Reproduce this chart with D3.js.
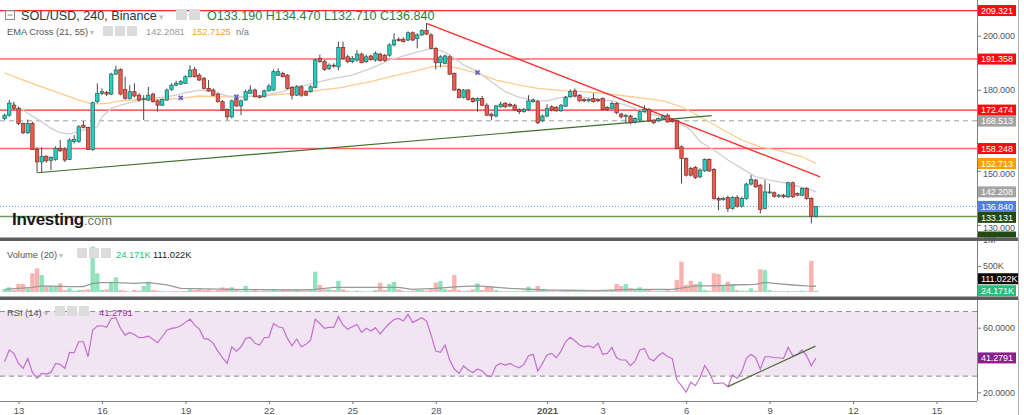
<!DOCTYPE html>
<html>
<head>
<meta charset="utf-8">
<script src="https://cdn.jsdelivr.net/npm/d3@7"></script>
<style>
body { margin: 0; background: #fff; }
svg { display: block; }
text { font-family: "Liberation Sans", Arial, sans-serif; }
</style>
</head>
<body>
<svg id="chart" width="1024" height="415"></svg>
<script>
// ---- data (SOL/USD 4h candles, first bar 12 Dec 2020 12:00 UTC) ----
var opens = [169.4,170.6,174.3,173.1,167.5,164.1,167.5,157.9,153.3,155.4,153.9,154.2,158.3,157.9,154.2,160.8,160.8,166.9,166.1,157.9,
175.6,178.7,179.0,178.4,185.8,187.5,180.1,176.8,179.3,178.0,176.4,176.2,178.4,175.9,174.3,176.2,180.1,181.7,182.1,182.4,
184.8,187.5,185.4,184.2,180.5,179.9,178.4,175.6,172.7,170.0,176.4,174.0,176.2,178.7,179.9,177.7,177.4,179.6,179.9,185.4,
186.1,185.4,180.9,178.0,181.1,179.3,179.3,180.9,191.6,190.4,187.9,189.1,188.5,195.7,192.2,190.4,191.0,193.2,190.4,192.5,
191.0,193.2,192.8,192.8,196.6,198.7,198.7,198.4,201.1,199.0,200.3,201.9,200.3,195.3,190.0,189.8,192.2,186.1,180.1,177.2,
179.9,176.8,175.9,176.8,174.3,171.0,170.3,173.7,175.0,174.6,174.3,172.7,171.9,172.7,175.6,175.6,168.5,170.3,173.7,173.5,
172.2,173.9,177.4,179.6,178.0,176.4,175.9,176.8,176.4,176.8,173.5,173.1,174.9,171.0,170.3,170.3,168.1,168.8,171.9,172.7,
168.8,168.5,169.4,170.6,168.8,168.5,158.9,154.6,150.9,151.2,147.8,150.0,154.2,150.5,139.8,139.4,140.1,136.1,140.1,136.9,
139.8,145.1,146.6,144.7,136.1,141.9,141.9,140.6,141.0,140.4,145.6,141.6,141.0,143.5,139.8,133.19];
var highs = [171.2,176.2,175.6,173.7,167.8,169.0,168.2,158.7,158.7,155.8,155.4,159.1,161.4,158.7,162.0,163.2,166.9,168.4,166.3,175.6,
182.4,180.5,179.6,186.3,188.9,187.9,184.8,181.7,182.4,178.7,178.0,181.1,178.9,176.4,176.8,180.5,182.4,183.3,183.6,185.4,
189.1,188.5,186.1,184.8,183.6,180.5,178.9,176.2,173.1,176.4,177.2,176.4,180.1,181.7,180.5,178.0,180.1,182.1,187.5,187.9,
186.7,185.8,181.4,181.7,181.7,179.9,181.7,191.6,193.0,191.0,189.8,189.8,197.8,197.8,193.0,192.5,194.7,193.7,193.0,193.0,
194.2,193.7,193.2,197.2,200.9,199.4,199.4,201.6,201.6,200.9,202.4,204.6,200.9,195.8,192.8,193.0,192.8,186.4,180.5,180.3,
180.3,177.2,177.2,177.7,175.0,171.5,174.4,175.6,175.6,175.2,174.8,173.1,173.3,178.0,176.8,176.2,170.8,174.7,174.3,174.0,
174.7,177.7,180.1,180.5,178.4,176.8,176.8,178.7,176.8,177.2,173.9,175.6,175.4,171.5,171.0,170.8,169.8,172.5,174.3,173.3,
169.0,169.8,170.8,171.2,169.4,169.0,159.4,155.0,151.5,151.8,150.9,154.6,154.6,151.0,140.4,140.4,140.8,140.6,141.0,140.4,
145.6,148.4,147.0,145.2,146.6,145.3,142.4,141.5,141.5,146.0,146.0,142.0,143.9,144.0,140.2,137.0];
var lows = [168.8,170.0,172.5,166.9,163.6,163.6,157.7,149.3,149.6,153.0,150.3,153.7,157.0,153.3,154.0,160.1,160.4,165.7,157.7,157.4,
175.0,178.0,177.7,178.0,185.4,178.0,176.4,176.4,177.2,175.6,168.8,175.9,175.2,171.9,174.0,175.9,179.6,181.4,181.7,182.1,
184.6,184.6,183.3,180.1,179.3,177.7,175.2,172.2,168.8,169.4,173.7,170.6,175.9,178.4,177.2,176.8,177.2,179.3,179.6,185.1,
184.6,180.1,176.4,177.7,177.4,177.7,178.9,180.5,190.0,187.0,187.3,188.2,187.3,191.2,189.8,189.8,190.4,189.8,190.0,190.7,
190.4,190.4,190.4,192.2,196.0,197.8,197.5,198.0,198.0,195.3,199.9,200.3,195.0,187.5,188.3,189.4,185.4,179.6,176.8,176.8,
176.0,175.2,171.9,173.9,170.3,168.8,169.8,173.3,173.3,173.6,172.2,171.0,171.5,172.2,175.2,167.3,168.1,169.8,172.0,171.9,
171.9,173.6,177.0,177.2,175.6,175.4,175.4,175.2,175.4,172.2,172.2,172.7,171.0,169.4,167.5,167.3,167.5,168.5,171.5,168.1,
167.3,168.1,169.0,167.8,167.8,157.9,145.3,147.9,147.9,147.0,147.3,149.6,149.6,139.3,135.4,138.9,134.8,135.6,136.4,136.4,
139.3,144.6,143.7,134.2,135.7,141.5,140.1,140.0,139.9,139.9,139.9,140.6,140.6,139.3,130.5,132.71];
var closes = [170.6,175.0,173.1,167.5,164.1,167.5,157.9,153.3,155.4,153.7,154.9,158.3,157.4,154.0,161.4,161.6,166.3,166.1,157.9,175.2,
178.7,179.3,178.4,185.8,187.3,178.4,176.8,179.3,177.7,176.2,176.8,178.0,175.6,174.3,176.4,179.9,181.7,182.4,183.0,184.8,
187.3,184.8,183.6,180.5,179.6,178.0,175.6,172.5,170.0,175.9,174.0,175.9,179.3,179.9,177.4,177.2,179.6,181.4,186.7,186.7,
184.8,180.5,178.0,181.1,178.0,178.0,181.1,191.0,190.4,187.5,189.1,188.8,195.7,191.6,190.4,191.6,193.2,190.0,192.2,191.2,
193.5,190.8,190.8,196.6,198.4,198.2,197.8,201.1,198.4,200.3,201.9,200.6,195.3,190.0,192.2,192.5,185.8,179.9,177.2,179.9,
176.4,175.6,176.8,174.3,170.6,170.3,174.0,174.7,173.7,174.0,172.5,171.9,172.7,175.9,176.2,167.8,170.3,173.1,172.5,172.2,
174.3,177.2,179.3,177.7,175.9,175.9,176.4,175.6,175.9,172.7,172.7,174.9,171.5,170.0,170.5,167.8,169.4,171.9,172.7,168.5,
167.8,169.4,170.3,168.1,168.2,158.3,154.6,148.4,148.4,147.5,150.3,154.2,150.0,139.8,139.2,139.8,136.1,140.1,136.9,139.8,
145.1,146.8,144.1,135.7,142.2,142.2,140.6,141.0,140.4,145.6,140.4,141.0,143.5,139.8,133.2,136.84];
// volume in thousands
var volumes = [52,90,38,154,154,71,359,455,327,103,116,116,167,38,71,25,38,38,52,871,
359,38,52,199,282,38,25,10,38,25,116,199,38,25,15,10,15,18,15,18,
52,38,71,38,52,25,38,90,71,90,38,25,116,25,38,18,25,25,52,25,
38,38,25,52,25,25,38,391,135,52,52,38,215,52,25,15,25,15,10,15,
38,180,38,154,193,52,25,15,25,38,38,25,52,180,212,52,38,327,38,18,
25,52,167,38,103,116,38,18,15,15,18,15,25,103,25,116,52,25,15,10,
15,25,25,38,25,38,25,38,25,25,25,38,154,116,154,71,38,90,52,38,
25,25,25,38,20,231,583,135,215,154,199,38,25,359,346,135,199,154,38,25,
25,71,25,439,423,38,15,15,15,18,15,15,25,15,599,24.171];
// volume MA(20) read at selected bars
var volMaBars = [0,3,6,8,14,17,19,21,24,28,31,35,38,49,64,67,71,78,85,88,93,98,102,109,117,128,135,142,144,147,149,153,157,162,164,166,170,173,175];
var volMaVals = [52,71,90,116,103,103,167,180,180,167,180,135,71,52,38,52,90,90,90,52,71,103,116,71,38,25,52,52,52,90,116,116,135,148,186,167,135,116,111.022];
var rsiValues = [38.9,46.2,44.1,37.9,34.8,41.0,32.3,28.6,31.7,31.3,32.3,37.9,37.3,34.8,44.7,44.5,51.3,51.3,42.0,58.5,
61.0,61.2,60.2,65.7,66.1,59.6,55.4,57.1,55.8,53.8,54.0,54.8,52.8,50.7,54.4,58.5,59.6,60.0,61.2,63.3,
65.3,61.6,59.1,53.4,52.8,50.3,45.5,41.4,37.9,48.2,45.5,48.2,53.4,54.0,50.3,49.3,53.8,54.0,62.6,60.6,
60.0,53.4,48.8,53.0,48.2,49.7,52.3,65.3,62.6,59.6,60.2,60.2,66.8,61.6,59.1,60.6,62.0,57.1,59.6,57.9,
60.0,56.1,59.6,62.6,65.1,65.7,64.1,68.2,63.3,64.7,66.2,64.1,55.4,45.5,44.7,49.3,40.0,34.4,31.7,36.3,
33.8,32.3,34.4,33.2,30.3,29.7,36.5,37.9,36.9,37.9,36.3,35.2,37.3,42.6,43.5,33.2,37.9,43.1,44.1,41.4,
45.5,51.3,54.0,51.9,49.3,48.2,48.8,47.6,50.3,43.5,44.1,47.8,41.4,40.0,40.0,36.5,39.4,46.2,47.2,41.0,
39.4,42.6,44.5,42.0,41.0,27.6,24.1,20.0,26.2,24.1,29.0,36.5,32.3,25.5,25.5,25.9,23.5,30.7,28.6,32.8,
41.0,43.5,41.4,34.4,42.0,42.0,41.4,41.4,41.0,47.8,42.6,43.5,46.2,42.6,36.5,41.2791];
// EMA lines read at selected bars
var ema21Bars = [1,3,5,8,10,12,14,16,18,20,21,23,25,28,31,34,37,39,42,45,48,51,54,57,60,62,65,68,71,75,79,83,88,92,94,96,99,102,105,108,111,114,117,119,122,125,128,131,134,137,139,142,145,148,150,153,156,159,162,165,168,170,173,175];
var ema21Vals = [175.6,173.7,171.2,168.2,165.7,164.1,163.6,164.5,165.7,166.3,170.0,173.1,174.3,175.6,176.8,177.2,178.0,178.9,179.9,179.3,177.7,177.4,177.7,178.4,179.3,180.9,181.7,183.0,184.2,185.4,187.9,191.0,193.5,195.3,194.5,192.9,189.2,186.7,183.0,179.3,177.2,176.2,175.9,176.8,177.7,177.2,176.4,175.9,174.3,172.5,171.0,170.1,168.2,165.1,160.8,157.7,154.0,150.9,147.8,146.6,145.6,144.7,143.5,142.208];
var ema55Bars = [0,3,8,12,16,19,22,25,29,34,38,42,47,51,55,60,64,68,73,75,79,83,88,92,95,98,102,106,111,115,121,125,129,134,138,142,146,150,155,159,163,168,172,175];
var ema55Vals = [186.3,184.2,181.1,178.7,176.2,174.7,175.0,175.9,176.4,176.4,176.8,177.7,177.4,177.4,177.7,178.4,178.9,179.9,180.9,181.7,183.0,184.8,186.7,188.5,188.8,187.9,186.1,183.6,181.7,180.5,179.6,179.3,178.7,177.7,176.8,175.9,173.7,170.0,165.1,161.4,158.9,157.1,155.2,152.713];
var crossBars = [38, 50, 102];
var crossPrices = [177.0, 177.4, 186.4];
// horizontal levels and right-axis tags
var levelPrices = [209.321, 191.358, 172.474, 168.513, 158.248, 136.840, 133.131];
var levelStyles = ["red", "soft", "red", "dash", "soft", "dot", "green"];
var tagPrices = [209.321, 191.358, 172.474, 168.513, 158.248, 152.713, 142.208, 136.840, 133.131];
var tagColors = ["#ff0a0a", "#ff0a0a", "#ff0a0a", "#a3a3a3", "#ff0a0a", "#ffa000", "#a3a3a3", "#4f7fe0", "#234a12"];
var priceTicks = [130, 140, 150, 160, 170, 180, 190, 200, 210];
var volTicks = [500, 1000];
var volTickLabels = ["500K", "1M"];
var rsiTicks = [20, 40, 60];
var xTickDates = [Date.UTC(2020,11,13), Date.UTC(2020,11,16), Date.UTC(2020,11,19), Date.UTC(2020,11,22), Date.UTC(2020,11,25),
  Date.UTC(2020,11,28), Date.UTC(2021,0,1), Date.UTC(2021,0,3), Date.UTC(2021,0,6), Date.UTC(2021,0,9), Date.UTC(2021,0,12), Date.UTC(2021,0,15)];
var xTickLabels = ["13", "16", "19", "22", "25", "28", "2021", "3", "6", "9", "12", "15"];
// drawn trend lines: [bar index, value]
var greenTrend = [[7, 149.3], [152.5, 170.4]];
var redTrend = [[91, 204.6], [175.9, 147.8]];
var rsiTrend = [[156, 23.5], [174.9, 48.6]];

var barStart = Date.UTC(2020, 11, 12, 12);
var barMs = 4 * 3600 * 1000;
function barDate(i) { return new Date(barStart + i * barMs); }

var plotRight = 977;
var svg = d3.select("#chart");

var x = d3.scaleUtc()
  .domain([new Date(Date.UTC(2020,11,13)), new Date(Date.UTC(2021,0,15))])
  .range([18.5, 936.5]);
var yPrice = d3.scaleLinear().domain([125.07, 213.22]).range([238.2, 0]);
var yVol = d3.scaleLinear().domain([0, 1000]).range([292, 240]);
var yRsi = d3.scaleLinear().domain([20, 60]).range([392.3, 327.7]);

var defs = svg.append("defs");
function clip(id, y0, y1) {
  defs.append("clipPath").attr("id", id).append("rect")
    .attr("x", 0).attr("y", y0).attr("width", plotRight).attr("height", y1 - y0);
}
clip("cMain", 0, 238);
clip("cVol", 241, 297);
clip("cRsi", 300, 401);

// ---------------- main pane ----------------
var main = svg.append("g").attr("clip-path", "url(#cMain)");

levelPrices.forEach(function(p, k) {
  var st = levelStyles[k];
  var ln = main.append("line")
    .attr("x1", 0).attr("x2", plotRight)
    .attr("y1", yPrice(p)).attr("y2", yPrice(p));
  if (st == "red") ln.attr("stroke", "#ff2a2a").attr("stroke-width", 1.3);
  if (st == "soft") ln.attr("stroke", "#ff6a6a").attr("stroke-width", 1.5);
  if (st == "dash") ln.attr("stroke", "#a0a0a0").attr("stroke-width", 1).attr("stroke-dasharray", "5,4");
  if (st == "dot") ln.attr("stroke", "#6f95e8").attr("stroke-width", 1).attr("stroke-dasharray", "1,2");
  if (st == "green") ln.attr("stroke", "#6d9a5c").attr("stroke-width", 1.5);
});

var emaLine = d3.line()
  .x(function(d) { return x(barDate(d[0])); })
  .y(function(d) { return yPrice(d[1]); });

main.append("path")
  .datum(ema55Bars.map(function(b, k) { return [b, ema55Vals[k]]; }))
  .attr("fill", "none").attr("stroke", "#ffcb8a").attr("stroke-width", 1.3)
  .attr("d", emaLine);
main.append("path")
  .datum(ema21Bars.map(function(b, k) { return [b, ema21Vals[k]]; }))
  .attr("fill", "none").attr("stroke", "#cfcfcf").attr("stroke-width", 1.3)
  .attr("d", emaLine);

// trend lines
[greenTrend, redTrend].forEach(function(t, k) {
  main.append("line")
    .attr("x1", x(barDate(t[0][0]))).attr("y1", yPrice(t[0][1]))
    .attr("x2", x(barDate(t[1][0]))).attr("y2", yPrice(t[1][1]))
    .attr("stroke", k == 0 ? "#3f6e2c" : "#ff3030")
    .attr("stroke-width", k == 0 ? 1.2 : 1.4);
});

// candles
var candles = d3.range(opens.length).map(function(i) {
  return {i: i, o: opens[i], h: highs[i], l: lows[i], c: closes[i]};
});
var cg = main.append("g");
cg.selectAll(".wick")
  .data(candles)
  .join("line")
  .attr("class", "wick")
  .attr("x1", function(d) { return x(barDate(d.i)); })
  .attr("x2", function(d) { return x(barDate(d.i)); })
  .attr("y1", function(d) { return yPrice(d.h); })
  .attr("y2", function(d) { return yPrice(d.l); })
  .attr("stroke", "#4a4a4a").attr("stroke-width", 1);
cg.selectAll(".body")
  .data(candles)
  .join("rect")
  .attr("class", "body")
  .attr("x", function(d) { return x(barDate(d.i)) - 1.7; })
  .attr("width", 3.4)
  .attr("y", function(d) { return yPrice(Math.max(d.o, d.c)); })
  .attr("height", function(d) { return Math.max(1, Math.abs(yPrice(d.o) - yPrice(d.c))); })
  .attr("fill", function(d) { return d.c >= d.o ? "#1fd3c3" : "#ee5a4f"; })
  .attr("stroke", function(d) { return d.c >= d.o ? "#2b5e5a" : "#7a2e28"; })
  .attr("stroke-width", 0.7);

// ema cross markers
crossBars.forEach(function(b, k) {
  main.append("path")
    .attr("d", d3.symbol().type(d3.symbolCross).size(18))
    .attr("transform", "translate(" + x(barDate(b)) + "," + yPrice(crossPrices[k]) + ") rotate(45)")
    .attr("fill", "#6a63c4");
});

// Investing.com logo
var logo = svg.append("text").attr("x", 12).attr("y", 225);
logo.append("tspan").text("Investing").attr("font-size", 17).attr("font-weight", "bold").attr("fill", "#1a1a1a").attr("letter-spacing", -0.3);
logo.append("tspan").text(".com").attr("font-size", 13).attr("fill", "#777");

// ---------------- volume pane ----------------
var vol = svg.append("g").attr("clip-path", "url(#cVol)");
vol.selectAll(".vbar")
  .data(candles)
  .join("rect")
  .attr("class", "vbar")
  .attr("x", function(d) { return x(barDate(d.i)) - 2.2; })
  .attr("width", 4.4)
  .attr("y", function(d) { return yVol(volumes[d.i]); })
  .attr("height", function(d) { return yVol(0) - yVol(volumes[d.i]); })
  .attr("fill", function(d) { return d.c >= d.o ? "#8fe3bd" : "#f9b3b0"; });
vol.append("path")
  .datum(volMaBars.map(function(b, k) { return [b, volMaVals[k]]; }))
  .attr("fill", "none").attr("stroke", "#9a9a9a").attr("stroke-width", 1.3)
  .attr("d", d3.line().x(function(d) { return x(barDate(d[0])); }).y(function(d) { return yVol(d[1]); }));

// ---------------- RSI pane ----------------
var rsi = svg.append("g").attr("clip-path", "url(#cRsi)");
rsi.append("rect")
  .attr("x", 0).attr("width", plotRight)
  .attr("y", yRsi(70)).attr("height", yRsi(30) - yRsi(70))
  .attr("fill", "#f1e4f3");
[70, 30].forEach(function(v) {
  rsi.append("line")
    .attr("x1", 0).attr("x2", plotRight).attr("y1", yRsi(v)).attr("y2", yRsi(v))
    .attr("stroke", "#8a8a8a").attr("stroke-dasharray", "5,4");
});
rsi.append("path")
  .datum(rsiValues)
  .attr("fill", "none").attr("stroke", "#c46fce").attr("stroke-width", 1.2)
  .attr("d", d3.line().x(function(d, i) { return x(barDate(i)); }).y(function(d) { return yRsi(d); }));
rsi.append("line")
  .attr("x1", x(barDate(rsiTrend[0][0]))).attr("y1", yRsi(rsiTrend[0][1]))
  .attr("x2", x(barDate(rsiTrend[1][0]))).attr("y2", yRsi(rsiTrend[1][1]))
  .attr("stroke", "#4d6d38").attr("stroke-width", 1.2);

// ---------------- value tags (placed first so axis labels can avoid them) ----------------
var tagH = 11, tagGap = 11;
var priceTagPos = [];
tagPrices.forEach(function(p, k) {
  var yv = yPrice(p);
  if (k > 0 && yv - priceTagPos[k - 1] < tagGap) yv = priceTagPos[k - 1] + tagGap;
  priceTagPos.push(yv);
});
var volTagPos = [yVol(24.171)];
volTagPos.push(Math.min(yVol(111.022), volTagPos[0] - 12));
var rsiTagPos = yRsi(rsiValues[rsiValues.length - 1]);
var allTagPos = priceTagPos.concat(volTagPos, [rsiTagPos]);

// ---------------- axes ----------------
function hidden(v, scale) {
  var yv = scale(v);
  return allTagPos.some(function(t) { return Math.abs(t - yv) < 6; });
}
var pAxis = svg.append("g").attr("transform", "translate(" + plotRight + ",0)")
  .call(d3.axisRight(yPrice).tickValues(priceTicks.filter(function(v) { return !hidden(v, yPrice); }))
    .tickSize(4).tickPadding(2).tickFormat(d3.format(".3f")));
var vAxis = svg.append("g").attr("transform", "translate(" + plotRight + ",0)")
  .call(d3.axisRight(yVol).tickValues(volTicks).tickSize(4).tickPadding(2)
    .tickFormat(function(d, k) { return volTickLabels[k]; }));
var rAxis = svg.append("g").attr("transform", "translate(" + plotRight + ",0)")
  .call(d3.axisRight(yRsi).tickValues(rsiTicks.filter(function(v) { return !hidden(v, yRsi); }))
    .tickSize(4).tickPadding(2).tickFormat(d3.format(".4f")));
var xAxis = svg.append("g").attr("transform", "translate(0,401)")
  .call(d3.axisBottom(x).tickValues(xTickDates.map(function(t) { return new Date(t); })).tickSize(3).tickPadding(3)
    .tickFormat(function(d, k) { return xTickLabels[k]; }));
[pAxis, vAxis, rAxis, xAxis].forEach(function(a) {
  a.select(".domain").remove();
  a.selectAll("line").attr("stroke", "#777");
  a.selectAll("text").attr("fill", "#555").attr("font-size", 9.5)
    .attr("font-family", "Liberation Sans, Arial, sans-serif");
});
[pAxis, vAxis, rAxis].forEach(function(a) { a.selectAll("text").attr("font-size", 9).attr("letter-spacing", -0.1); });
// the 150 and 130 labels sit just under a tag, as in the original
pAxis.selectAll("text").filter(function(d) { return d == 150 || d == 130; }).attr("dy", "0.62em");
xAxis.selectAll("text").filter(function(d, k) { return xTickLabels[k] == "2021"; }).attr("font-weight", "bold");

svg.append("line").attr("x1", plotRight + 0.5).attr("x2", plotRight + 0.5).attr("y1", 0).attr("y2", 401)
  .attr("stroke", "#808080");
svg.append("line").attr("x1", 0).attr("x2", plotRight).attr("y1", 401.5).attr("y2", 401.5)
  .attr("stroke", "#808080");

function tag(yv, txt, color, w) {
  svg.append("rect").attr("x", plotRight + 1).attr("y", yv - tagH / 2).attr("width", w || 38).attr("height", tagH).attr("fill", color);
  svg.append("text").attr("x", plotRight + 4).attr("y", yv + 3.3).attr("font-size", 9).attr("letter-spacing", -0.1)
    .attr("fill", "#fff").text(txt);
}
// cut-off box at the bottom edge of the price pane
svg.append("rect").attr("x", plotRight + 1).attr("y", 231.5).attr("width", 38).attr("height", 6).attr("fill", "#234a12");
tagPrices.forEach(function(p, k) { tag(priceTagPos[k], d3.format(".3f")(p), tagColors[k]); });
tag(volTagPos[1], "111.022K", "#0a0a0a", 40);
tag(volTagPos[0], "24.171K", "#22c07a");
tag(rsiTagPos, "41.2791", "#8e1d8e");

// pane separators
[[237.5, 241], [296.5, 300]].forEach(function(s) {
  svg.append("rect").attr("x", 0).attr("y", s[0]).attr("width", 1019).attr("height", s[1] - s[0]).attr("fill", "#5c5c5c");
});
svg.append("line").attr("x1", 1018.5).attr("x2", 1018.5).attr("y1", 0).attr("y2", 415).attr("stroke", "#b0b0b0");

// ---------------- legends ----------------
function icons(x0, y0, n, s) {
  for (var k = 0; k < n; k++) {
    svg.append("rect").attr("x", x0 + k * (s + 2)).attr("y", y0).attr("width", s).attr("height", s)
      .attr("fill", "#dcdcdc");
  }
}
// collapse icon
svg.append("rect").attr("x", 5.5).attr("y", 10.5).attr("width", 9).attr("height", 9).attr("fill", "none").attr("stroke", "#888");
svg.append("line").attr("x1", 7.5).attr("x2", 12.5).attr("y1", 15).attr("y2", 15).attr("stroke", "#888");

var l1 = svg.append("text").attr("x", 21).attr("y", 20).attr("font-size", 12.6);
l1.append("tspan").text("SOL/USD, 240, Binance").attr("fill", "#333");
l1.append("tspan").text(" \u25BE").attr("fill", "#bbb").attr("font-size", 9);
icons(176, 9, 2, 11);
svg.append("text").attr("x", 207).attr("y", 20).attr("font-size", 12.6).attr("fill", "#2f7a3c")
  .text("O133.190 H134.470 L132.710 C136.840");

var legendSize = 9.3;
var l2 = svg.append("text").attr("x", 7).attr("y", 35).attr("font-size", legendSize).attr("fill", "#555");
l2.append("tspan").text("EMA Cross (21, 55)");
l2.append("tspan").text(" \u25BE").attr("fill", "#bbb").attr("font-size", 8);
icons(103, 26, 3, 10);
svg.append("text").attr("x", 146).attr("y", 35).attr("font-size", legendSize).attr("fill", "#9a9a9a").text("142.2081");
svg.append("text").attr("x", 192).attr("y", 35).attr("font-size", legendSize).attr("fill", "#f5a03a").text("152.7125");
svg.append("text").attr("x", 236).attr("y", 35).attr("font-size", legendSize).attr("fill", "#777").text("n/a");

var l3 = svg.append("text").attr("x", 7).attr("y", 258).attr("font-size", legendSize).attr("fill", "#555");
l3.append("tspan").text("Volume (20)");
l3.append("tspan").text(" \u25BE").attr("fill", "#bbb").attr("font-size", 8);
icons(77, 248, 3, 10);
svg.append("text").attr("x", 116).attr("y", 258).attr("font-size", legendSize).attr("fill", "#1dbf78").text("24.171K");
svg.append("text").attr("x", 153).attr("y", 258).attr("font-size", legendSize).attr("fill", "#222").text("111.022K");

var l4 = svg.append("text").attr("x", 7).attr("y", 316).attr("font-size", legendSize).attr("fill", "#555");
l4.append("tspan").text("RSI (14)");
l4.append("tspan").text(" \u25BE").attr("fill", "#bbb").attr("font-size", 8);
icons(55, 306, 3, 10);
svg.append("text").attr("x", 99).attr("y", 316).attr("font-size", legendSize).attr("fill", "#9b2fa3").text("41.2791");
</script>
</body>
</html>
